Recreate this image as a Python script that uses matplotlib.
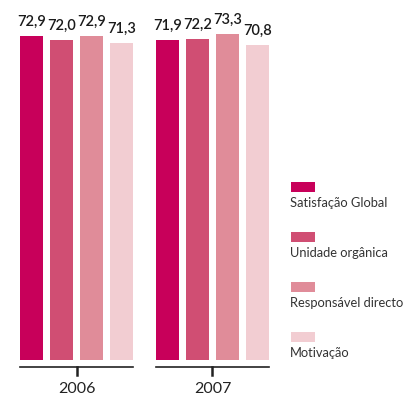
import matplotlib.pyplot as plt
from matplotlib.patches import Rectangle

years = ['2006', '2007']
series = ['Satisfação Global', 'Unidade orgânica', 'Responsável directo', 'Motivação']
values = {
    '2006': [72.9, 72.0, 72.9, 71.3],
    '2007': [71.9, 72.2, 73.3, 70.8],
}
colors = ['#C8005A', '#D04E73', '#E08C99', '#F2CDD2']

plt.rcParams['font.family'] = ['Lato', 'DejaVu Sans']

W, H = 408, 396
fig = plt.figure(figsize=(W / 100, H / 100), dpi=100)
ax = fig.add_axes([20 / W, 36 / H, 249 / W, 356 / H])

step = 1.0
width = 0.77
group_off = 4.53

for g, year in enumerate(years):
    xs = [i * step + g * group_off for i in range(len(series))]
    bars = ax.bar(xs, values[year], width=width, color=colors, linewidth=0)
    for b, v in zip(bars, values[year]):
        ax.annotate(f'{v:.1f}'.replace('.', ','),
                    (b.get_x() + b.get_width() / 2, v),
                    xytext=(0, 5), textcoords='offset points',
                    ha='center', va='bottom', fontsize=10.5, fontweight='semibold',
                    color='#1a1a1a')
    # axis line under each group with a centre tick
    left = xs[0] - width / 2
    right = xs[-1] + width / 2
    mid = (left + right) / 2
    ax.plot([left, right], [-1.6, -1.6], color='#222222', lw=1.2, clip_on=False)
    ax.plot([mid, mid], [-1.6, -3.4], color='#222222', lw=1.8, clip_on=False)
    ax.text(mid, -6.5, year, ha='center', va='center', fontsize=11.5,
            color='#222222')

ax.set_xlim(-width / 2, 3 + group_off + width / 2)
ax.set_ylim(0, 80)
ax.axis('off')

# legend: swatch above each label
for i, (name, c) in enumerate(zip(series, colors)):
    top = 182 + i * 50
    fig.patches.append(Rectangle((291 / W, 1 - (top + 10) / H), 24 / W, 10 / H,
                                 transform=fig.transFigure, color=c, lw=0))
    fig.text(290 / W, 1 - (top + 21) / H, name, ha='left', va='center',
             fontsize=9.3, fontweight='normal', color='#333333')

fig.savefig('out.png', dpi=100)
